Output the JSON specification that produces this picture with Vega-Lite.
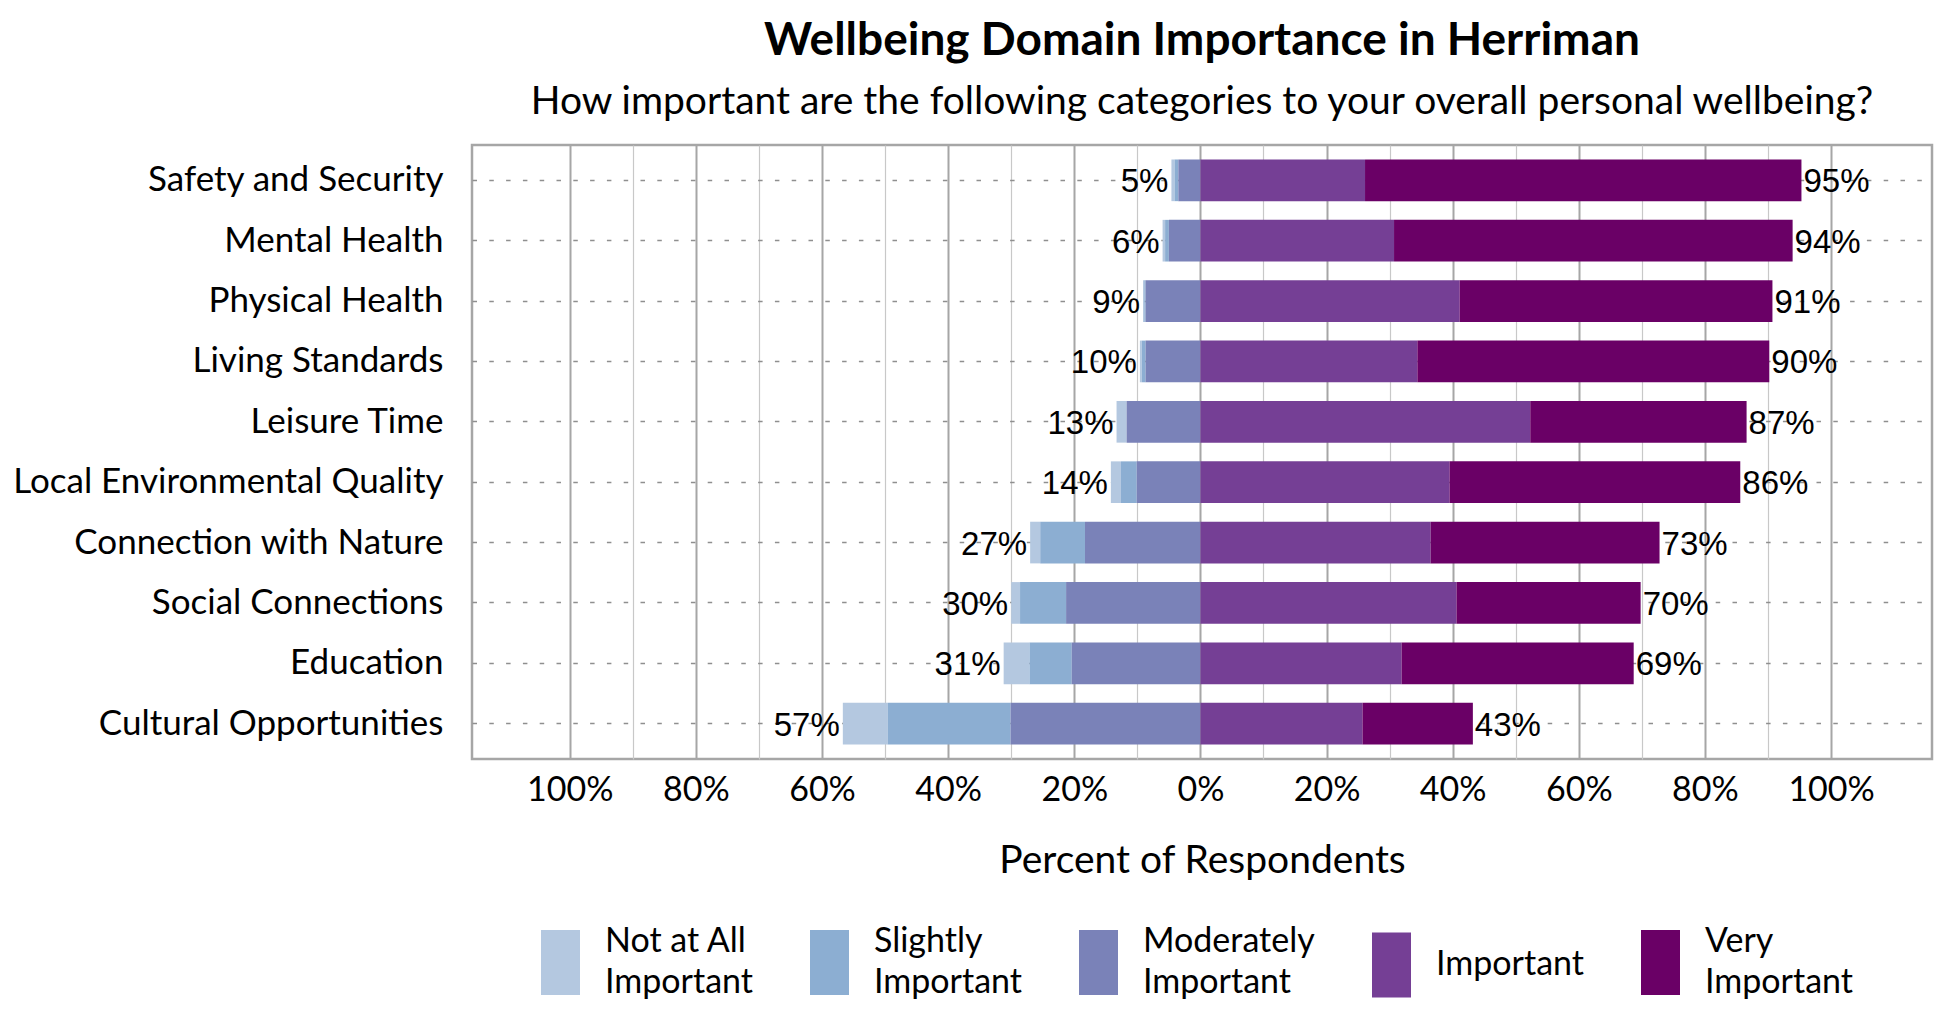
{
  "$schema": "https://vega.github.io/schema/vega-lite/v6.json",
  "width": 1460,
  "height": 614,
  "autosize": "none",
  "padding": {"left": 472, "top": 145, "right": 18, "bottom": 261},
  "background": "white",
  "config": {
    "view": {"stroke": "#a6a6a6", "strokeWidth": 2.5},
    "font": "Lato"
  },
  "title": {
    "text": "Wellbeing Domain Importance in Herriman",
    "subtitle": "How important are the following categories to your overall personal wellbeing?",
    "anchor": "middle",
    "font": "Lato",
    "fontSize": 46,
    "fontWeight": "bold",
    "color": "black",
    "subtitleFont": "Lato",
    "subtitleFontSize": 39,
    "subtitleColor": "black",
    "subtitlePadding": 18,
    "offset": 22
  },
  "data": {
    "values": [
      {"domain": "Safety and Security", "level": "Not at All Important", "pct": -0.5},
      {"domain": "Safety and Security", "level": "Slightly Important", "pct": -0.6},
      {"domain": "Safety and Security", "level": "Moderately Important", "pct": -3.5},
      {"domain": "Safety and Security", "level": "Important", "pct": 26.1},
      {"domain": "Safety and Security", "level": "Very Important", "pct": 69.2},
      {"domain": "Mental Health", "level": "Not at All Important", "pct": -0.4},
      {"domain": "Mental Health", "level": "Slightly Important", "pct": -0.6},
      {"domain": "Mental Health", "level": "Moderately Important", "pct": -5.0},
      {"domain": "Mental Health", "level": "Important", "pct": 30.7},
      {"domain": "Mental Health", "level": "Very Important", "pct": 63.2},
      {"domain": "Physical Health", "level": "Not at All Important", "pct": -0.2},
      {"domain": "Physical Health", "level": "Slightly Important", "pct": -0.2},
      {"domain": "Physical Health", "level": "Moderately Important", "pct": -8.7},
      {"domain": "Physical Health", "level": "Important", "pct": 41.1},
      {"domain": "Physical Health", "level": "Very Important", "pct": 49.6},
      {"domain": "Living Standards", "level": "Not at All Important", "pct": -0.3},
      {"domain": "Living Standards", "level": "Slightly Important", "pct": -0.6},
      {"domain": "Living Standards", "level": "Moderately Important", "pct": -8.7},
      {"domain": "Living Standards", "level": "Important", "pct": 34.4},
      {"domain": "Living Standards", "level": "Very Important", "pct": 55.8},
      {"domain": "Leisure Time", "level": "Not at All Important", "pct": -1.6},
      {"domain": "Leisure Time", "level": "Slightly Important", "pct": 0},
      {"domain": "Leisure Time", "level": "Moderately Important", "pct": -11.7},
      {"domain": "Leisure Time", "level": "Important", "pct": 52.3},
      {"domain": "Leisure Time", "level": "Very Important", "pct": 34.3},
      {"domain": "Local Environmental Quality", "level": "Not at All Important", "pct": -1.6},
      {"domain": "Local Environmental Quality", "level": "Slightly Important", "pct": -2.5},
      {"domain": "Local Environmental Quality", "level": "Moderately Important", "pct": -10.1},
      {"domain": "Local Environmental Quality", "level": "Important", "pct": 39.5},
      {"domain": "Local Environmental Quality", "level": "Very Important", "pct": 46.1},
      {"domain": "Connection with Nature", "level": "Not at All Important", "pct": -1.6},
      {"domain": "Connection with Nature", "level": "Slightly Important", "pct": -7.1},
      {"domain": "Connection with Nature", "level": "Moderately Important", "pct": -18.3},
      {"domain": "Connection with Nature", "level": "Important", "pct": 36.5},
      {"domain": "Connection with Nature", "level": "Very Important", "pct": 36.3},
      {"domain": "Social Connections", "level": "Not at All Important", "pct": -1.4},
      {"domain": "Social Connections", "level": "Slightly Important", "pct": -7.3},
      {"domain": "Social Connections", "level": "Moderately Important", "pct": -21.3},
      {"domain": "Social Connections", "level": "Important", "pct": 40.6},
      {"domain": "Social Connections", "level": "Very Important", "pct": 29.2},
      {"domain": "Education", "level": "Not at All Important", "pct": -4.1},
      {"domain": "Education", "level": "Slightly Important", "pct": -6.7},
      {"domain": "Education", "level": "Moderately Important", "pct": -20.4},
      {"domain": "Education", "level": "Important", "pct": 31.9},
      {"domain": "Education", "level": "Very Important", "pct": 36.8},
      {"domain": "Cultural Opportunities", "level": "Not at All Important", "pct": -7.1},
      {"domain": "Cultural Opportunities", "level": "Slightly Important", "pct": -19.5},
      {"domain": "Cultural Opportunities", "level": "Moderately Important", "pct": -30.1},
      {"domain": "Cultural Opportunities", "level": "Important", "pct": 25.7},
      {"domain": "Cultural Opportunities", "level": "Very Important", "pct": 17.5}
    ]
  },
  "transform": [
    {
      "calculate": "indexof(['Moderately Important', 'Slightly Important', 'Not at All Important', 'Important', 'Very Important'], datum.level)",
      "as": "ord"
    }
  ],
  "encoding": {
    "y": {
      "field": "domain",
      "type": "nominal",
      "title": null,
      "sort": [
        "Safety and Security",
        "Mental Health",
        "Physical Health",
        "Living Standards",
        "Leisure Time",
        "Local Environmental Quality",
        "Connection with Nature",
        "Social Connections",
        "Education",
        "Cultural Opportunities"
      ],
      "scale": {"paddingInner": 0.31, "paddingOuter": 0.24},
      "axis": {
        "ticks": false,
        "domain": false,
        "labelFont": "Lato",
        "labelFontSize": 35,
        "labelColor": "black",
        "labelPadding": 29,
        "labelLimit": 600,
        "grid": true,
        "bandPosition": 0.5,
        "gridDash": [4.5, 12.3],
        "gridColor": "#8f8f8f",
        "gridWidth": 1.5
      }
    }
  },
  "resolve": {"axis": {"x": "independent"}},
  "layer": [
    {
      "mark": {"type": "bar"},
      "encoding": {
        "x": {
          "field": "pct",
          "type": "quantitative",
          "stack": "zero",
          "title": "Percent of Respondents",
          "scale": {"domain": [-115.5, 116], "nice": false, "zero": false},
          "axis": {
            "orient": "bottom",
            "values": [-100, -80, -60, -40, -20, 0, 20, 40, 60, 80, 100],
            "labelExpr": "abs(datum.value) + '%'",
            "ticks": false,
            "domain": false,
            "grid": true,
            "gridColor": "#a6a6a6",
            "gridWidth": 2,
            "labelFont": "Lato",
            "labelFontSize": 34,
            "labelColor": "black",
            "labelPadding": 14,
            "titleFont": "Lato",
            "titleFontSize": 39,
            "titleFontWeight": "normal",
            "titleColor": "black",
            "titlePadding": 34
          }
        },
        "color": {
          "field": "level",
          "type": "nominal",
          "scale": {
            "domain": ["Not at All Important", "Slightly Important", "Moderately Important", "Important", "Very Important"],
            "range": ["#b4c8e0", "#8caed2", "#7a82b8", "#753f95", "#6a0066"]
          },
          "legend": {
            "orient": "none",
            "legendX": 56,
            "legendY": 785,
            "direction": "horizontal",
            "columns": 5,
            "title": null,
            "labelFont": "Lato",
            "labelFontSize": 34,
            "labelColor": "black",
            "labelLimit": 400,
            "labelOffset": 12,
            "columnPadding": 44,
            "symbolType": "M-0.6,-1H0.6V1H-0.6Z",
            "symbolSize": 4225,
            "symbolStrokeWidth": 0,
            "labelExpr": "datum.label == 'Not at All Important' ? ['Not at All', 'Important'] : datum.label == 'Slightly Important' ? ['Slightly', 'Important'] : datum.label == 'Moderately Important' ? ['Moderately', 'Important'] : datum.label == 'Very Important' ? ['Very', 'Important'] : datum.label",
            "encode": {
              "labels": {
                "update": {
                  "lineHeight": {"value": 41},
                  "dy": {"signal": "datum.value === 'Important' ? 0 : -20.5"}
                }
              }
            }
          }
        },
        "order": {"field": "ord", "type": "quantitative"}
      }
    },
    {
      "mark": {"type": "rule", "color": "#595959", "strokeWidth": 3},
      "encoding": {
        "x": {
          "datum": 0,
          "axis": {
            "orient": "top",
            "values": [-90, -70, -50, -30, -10, 10, 30, 50, 70, 90],
            "grid": true,
            "gridColor": "#c8c8c8",
            "gridWidth": 1.2,
            "labels": false,
            "ticks": false,
            "domain": false,
            "title": null
          }
        }
      }
    },
    {
      "transform": [
        {"filter": "datum.pct < 0"},
        {"aggregate": [{"op": "sum", "field": "pct", "as": "total"}], "groupby": ["domain"]}
      ],
      "mark": {
        "type": "text",
        "align": "right",
        "baseline": "middle",
        "dx": -3,
        "dy": 2,
        "font": "Liberation Sans",
        "fontSize": 33,
        "color": "black",
        "text": {"expr": "format(-datum.total, '.0f') + '%'"}
      },
      "encoding": {"x": {"field": "total", "type": "quantitative", "axis": null}}
    },
    {
      "transform": [
        {"filter": "datum.pct > 0"},
        {"aggregate": [{"op": "sum", "field": "pct", "as": "total"}], "groupby": ["domain"]}
      ],
      "mark": {
        "type": "text",
        "align": "left",
        "baseline": "middle",
        "dx": 2,
        "dy": 2,
        "font": "Liberation Sans",
        "fontSize": 33,
        "color": "black",
        "text": {"expr": "format(datum.total, '.0f') + '%'"}
      },
      "encoding": {"x": {"field": "total", "type": "quantitative", "axis": null}}
    }
  ]
}
